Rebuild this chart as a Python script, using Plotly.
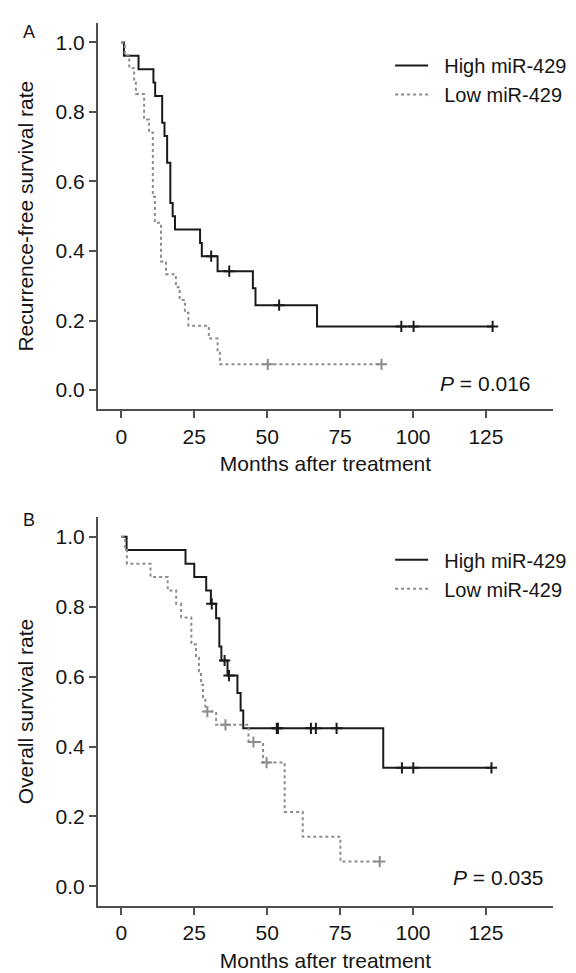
import plotly.graph_objects as go

# ---------------- data ----------------
# Panel A: recurrence-free survival
a_high_t = [0, 0.9, 5.9, 11.0, 11.6, 14.0, 14.8, 15.7, 16.8, 17.6, 18.4, 27.0, 27.6, 33.0, 45.1, 46.0, 67.1, 127.3]
a_high_s = [1.0, 0.962, 0.923, 0.885, 0.846, 0.769, 0.731, 0.654, 0.538, 0.500, 0.462, 0.423, 0.385, 0.342, 0.293, 0.244, 0.183, 0.183]
a_high_cens = [30.8, 37.0, 54.1, 96.0, 100.2, 127.3]

a_low_t = [0, 1.2, 2.7, 4.4, 5.0, 7.8, 9.5, 10.8, 11.5, 13.6, 15.3, 18.7, 20.0, 21.8, 23.0, 30.0, 33.0, 33.8, 89.2]
a_low_s = [1.0, 0.963, 0.926, 0.889, 0.852, 0.778, 0.741, 0.556, 0.481, 0.370, 0.333, 0.296, 0.259, 0.222, 0.185, 0.148, 0.111, 0.074, 0.074]
a_low_cens = [50.2, 89.2]

# Panel B: overall survival
b_high_t = [0, 1.8, 22.0, 25.0, 29.1, 30.7, 32.5, 33.6, 34.3, 36.4, 39.8, 40.9, 41.8, 89.8, 126.9]
b_high_s = [1.0, 0.962, 0.923, 0.885, 0.846, 0.808, 0.767, 0.686, 0.646, 0.603, 0.553, 0.503, 0.452, 0.339, 0.339]
b_high_cens = [31.0, 35.4, 36.9, 53.3, 53.7, 65.0, 66.7, 73.8, 96.2, 100.1, 126.9]

b_low_t = [0, 1.3, 1.9, 10.0, 15.9, 18.8, 20.5, 24.0, 25.6, 26.6, 27.3, 28.0, 28.8, 32.5, 43.6, 48.6, 56.0, 62.2, 75.1, 88.6]
b_low_s = [1.0, 0.962, 0.923, 0.885, 0.846, 0.808, 0.769, 0.692, 0.654, 0.615, 0.577, 0.538, 0.500, 0.462, 0.413, 0.354, 0.213, 0.142, 0.071, 0.071]
b_low_cens = [29.5, 35.7, 45.3, 49.8, 88.6]

x_ticks = [0, 25, 50, 75, 100, 125]
y_ticks = [0.0, 0.2, 0.4, 0.6, 0.8, 1.0]
y_tick_text = ["0.0", "0.2", "0.4", "0.6", "0.8", "1.0"]

p_values = ["0.016", "0.035"]
y_titles = ["Recurrence-free survival rate", "Overall survival rate"]
x_title = "Months after treatment"
panel_labels = ["A", "B"]
series_names = ["High miR-429", "Low miR-429"]


def surv_at(times, surv, t):
    s = surv[0]
    for ti, si in zip(times, surv):
        if ti <= t:
            s = si
    return s


FONT = "Liberation Sans, Arial, Helvetica, sans-serif"
TXT = "#151515"
HIGH_COLOR = "#1a1a1a"
LOW_COLOR = "#8c8c8c"
AX_COLOR = "#505050"
FS = 21

fig = go.Figure()

panels = [
    (a_high_t, a_high_s, a_high_cens, a_low_t, a_low_s, a_low_cens, "x", "y", "legend"),
    (b_high_t, b_high_s, b_high_cens, b_low_t, b_low_s, b_low_cens, "x2", "y2", "legend2"),
]

NB = "\u00a0\u00a0"
for (ht, hs, hc, lt, ls, lc, xa, ya, lg) in panels:
    fig.add_trace(go.Scatter(x=ht, y=hs, mode="lines", line=dict(shape="hv", color=HIGH_COLOR, width=2),
                             name=NB + series_names[0], xaxis=xa, yaxis=ya, legend=lg, showlegend=True))
    fig.add_trace(go.Scatter(x=lt, y=ls, mode="lines", line=dict(shape="hv", color=LOW_COLOR, width=2, dash="dot"),
                             name=NB + series_names[1], xaxis=xa, yaxis=ya, legend=lg, showlegend=True))
    fig.add_trace(go.Scatter(x=hc, y=[surv_at(ht, hs, t) for t in hc], mode="markers",
                             marker=dict(symbol="cross-thin", size=8, line=dict(color=HIGH_COLOR, width=2)),
                             xaxis=xa, yaxis=ya, showlegend=False, hoverinfo="skip"))
    fig.add_trace(go.Scatter(x=lc, y=[surv_at(lt, ls, t) for t in lc], mode="markers",
                             marker=dict(symbol="cross-thin", size=8, line=dict(color=LOW_COLOR, width=2)),
                             xaxis=xa, yaxis=ya, showlegend=False, hoverinfo="skip"))

axis_common = dict(
    showline=True, linecolor=AX_COLOR, linewidth=2, mirror=False,
    ticks="outside", ticklen=7, tickwidth=2, tickcolor=AX_COLOR,
    showgrid=False, zeroline=False,
    tickfont=dict(family=FONT, size=FS, color=TXT),
)

xaxis_cfg = dict(axis_common, range=[-8, 148], tickvals=x_ticks,
                 title=dict(text=x_title, font=dict(family=FONT, size=FS, color=TXT), standoff=10))
yaxis_cfg = dict(axis_common, range=[-0.056, 1.056], tickvals=y_ticks, ticktext=y_tick_text)

legend_common = dict(xanchor="left", yanchor="top", bgcolor="rgba(0,0,0,0)",
                     font=dict(family=FONT, size=20, color=TXT), itemwidth=33, tracegroupgap=0)

fig.update_layout(
    width=576, height=973,
    margin=dict(l=90, r=24, t=15, b=63),
    paper_bgcolor="white", plot_bgcolor="white",
    font=dict(family=FONT, size=FS, color=TXT),
    xaxis=dict(xaxis_cfg, domain=[0, 1], anchor="y"),
    yaxis=dict(yaxis_cfg, domain=[0.5623, 1.0], anchor="x",
               title=dict(text=y_titles[0], font=dict(family=FONT, size=FS, color=TXT), standoff=16)),
    xaxis2=dict(xaxis_cfg, domain=[0, 1], anchor="y2"),
    yaxis2=dict(yaxis_cfg, domain=[0.0, 0.4404], anchor="x2",
                title=dict(text=y_titles[1], font=dict(family=FONT, size=FS, color=TXT), standoff=16)),
    legend=dict(legend_common, x=0.642, y=0.974),
    legend2=dict(legend_common, x=0.642, y=0.4142),
    showlegend=True,
)

annotations = []
for i, (xr, yr, py) in enumerate([("x", "y", 0.99), ("x2", "y2", 0.437)]):
    annotations.append(dict(text="<i>P</i> = " + p_values[i], x=[141.2, 145.5][i], y=[0.02, 0.025][i],
                            xref=xr, yref=yr, xanchor="right", yanchor="middle", showarrow=False,
                            font=dict(family=FONT, size=FS, color=TXT)))
    annotations.append(dict(text=panel_labels[i], x=-0.152, y=py, xref="paper", yref="paper",
                            xanchor="center", yanchor="middle", showarrow=False,
                            font=dict(family=FONT, size=18, color=TXT)))
fig.update_layout(annotations=annotations)

fig.write_html("out.html")
